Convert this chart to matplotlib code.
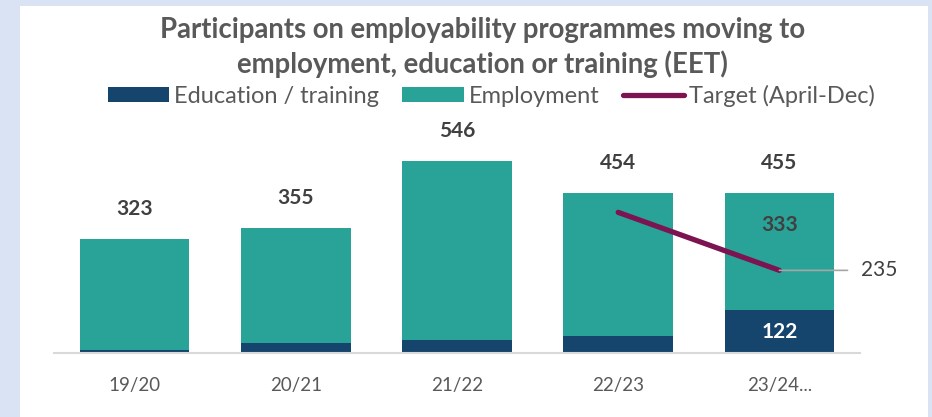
import matplotlib
matplotlib.use("Agg")
import matplotlib.pyplot as plt
import numpy as np
from matplotlib.patches import Patch, Rectangle
from matplotlib.lines import Line2D

categories = ["19/20", "20/21", "21/22", "22/23", "23/24..."]
education = [9, 28, 37, 49, 122]
employment = [314, 327, 509, 405, 333]
totals = [323, 355, 546, 454, 455]
target = [np.nan, np.nan, np.nan, 400, 235]

C_EDU = "#15446c"
C_EMP = "#29a398"
C_TGT = "#7b1450"
C_TXT = "#595959"
C_LBL = "#404040"
FONT = "Lato"

plt.rcParams["font.family"] = [FONT, "DejaVu Sans"]

W, H = 932, 417
fig = plt.figure(figsize=(W / 100, H / 100), dpi=100)
fig.patch.set_facecolor("#dae3f3")
# white chart panel
fig.add_artist(Rectangle((20 / W, 0), (928 - 20) / W, (H - 6) / H,
                         transform=fig.transFigure, facecolor="white",
                         edgecolor="none", zorder=0))

left, right = 54 / W, 860 / W
bottom = (H - 353) / H
top = (H - 142) / H
ax = fig.add_axes([left, bottom, right - left, top - bottom])
ax.set_facecolor("none")

x = np.arange(len(categories))
bw = 0.68
ax.bar(x, education, bw, color=C_EDU, zorder=2)
ax.bar(x, employment, bw, bottom=education, color=C_EMP, zorder=2)
ax.plot(x, target, color=C_TGT, lw=3.8, solid_capstyle="round", zorder=3)

ax.set_xlim(-0.5, len(categories) - 0.5)
ax.set_ylim(0, 600)
for s in ["top", "right", "left"]:
    ax.spines[s].set_visible(False)
ax.spines["bottom"].set_color("#d9d9d9")
ax.spines["bottom"].set_linewidth(1.5)
ax.set_yticks([])
ax.set_xticks(x)
ax.set_xticklabels(categories, fontsize=13.5, color=C_TXT)
ax.tick_params(axis="x", length=0, pad=17)

# totals above bars
for xi, t in zip(x, totals):
    ax.annotate(str(t), (xi, t), xytext=(0, 30), textcoords="offset pixels",
                ha="center", va="center", fontsize=15, fontweight="bold",
                color=C_LBL)

# segment labels on the latest year
last = len(categories) - 1
ax.annotate(str(employment[last]), (x[last], totals[last]), xytext=(0, -32),
            textcoords="offset pixels", ha="center", va="center",
            fontsize=15, fontweight="bold", color=C_LBL)
ax.text(x[last], education[last] / 2, str(education[last]), ha="center",
        va="center", fontsize=15, fontweight="bold", color="white", zorder=4)

# target value label with leader line
ax.annotate(str(target[last]), (x[last], target[last]), xytext=(82, 0),
            textcoords="offset pixels", ha="left", va="center",
            fontsize=15, color=C_LBL,
            arrowprops=dict(arrowstyle="-", color="#a6a6a6", lw=1.2,
                            shrinkA=8, shrinkB=0))

fig.text(0.518, (H - 30) / H,
         "Participants on employability programmes moving to",
         ha="center", va="center", fontsize=19.8, fontweight="bold",
         color=C_TXT)
fig.text(0.518, (H - 64) / H,
         "employment, education or training (EET)",
         ha="center", va="center", fontsize=19.8, fontweight="bold",
         color=C_TXT)

handles = [Patch(facecolor=C_EDU), Patch(facecolor=C_EMP),
           Line2D([0], [0], color=C_TGT, lw=3.8, solid_capstyle="round")]
labels = ["Education / training", "Employment", "Target (April-Dec)"]
fig.legend(handles, labels, loc="center", bbox_to_anchor=(0.527, (H - 96) / H),
           ncol=3, frameon=False, fontsize=17, labelcolor=C_TXT,
           handlelength=2.6, handleheight=0.6, handletextpad=0.2,
           columnspacing=1.0)

fig.savefig("out.png", dpi=100, facecolor=fig.get_facecolor())
